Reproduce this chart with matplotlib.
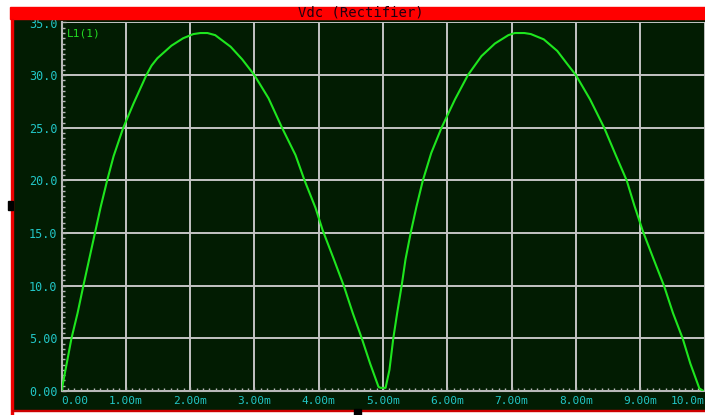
"""Vdc (Rectifier) - осциллограмма выпрямленного напряжения в стиле Proteus"""

import matplotlib
matplotlib.use('Agg')
import matplotlib.pyplot as plt
from matplotlib.patches import Rectangle
from matplotlib.ticker import MultipleLocator

W, H = 705, 415

# время, мс и напряжение, В
time_ms = [0.0, 0.155, 0.25, 0.34, 0.43, 0.52, 0.61, 0.71, 0.81, 0.96,
           1.12, 1.32, 1.40, 1.49, 1.71, 1.89, 2.05, 2.16, 2.27, 2.39, 2.63,
           2.81, 3.0, 3.22, 3.43, 3.64, 3.78, 3.95, 4.06, 4.23, 4.39,
           4.53, 4.67, 4.8, 4.93, 4.96, 5.04, 5.1, 5.16, 5.22, 5.29,
           5.35, 5.43, 5.52, 5.62, 5.75, 5.91, 6.12, 6.32, 6.53, 6.74,
           6.95, 7.05, 7.2, 7.3, 7.5, 7.71, 7.86, 8.0, 8.22, 8.44,
           8.62, 8.79, 8.91, 9.04, 9.21, 9.37, 9.51, 9.66, 9.78, 9.92, 9.97]
vdc = [0.0, 5.0, 7.4, 10.0, 12.5, 15.0, 17.5, 20.0, 22.3, 25.0,
       27.3, 30.0, 30.9, 31.6, 32.8, 33.5, 33.9, 34.0, 34.0, 33.8, 32.7,
       31.5, 30.0, 27.8, 25.0, 22.4, 20.0, 17.4, 15.3, 12.6, 10.0,
       7.4, 5.0, 2.6, 0.4, 0.3, 0.3, 2.0, 5.0, 7.4, 10.0,
       12.5, 15.0, 17.5, 20.0, 22.6, 25.0, 27.7, 30.0, 31.8, 33.0,
       33.8, 34.0, 34.0, 33.9, 33.4, 32.3, 31.1, 30.0, 27.7, 25.0,
       22.4, 20.0, 17.6, 15.2, 12.5, 10.0, 7.4, 5.0, 2.6, 0.25, 0.05]

x_ticks = [0, 1, 2, 3, 4, 5, 6, 7, 8, 9, 10]
x_labels = ['0.00', '1.00m', '2.00m', '3.00m', '4.00m', '5.00m',
            '6.00m', '7.00m', '8.00m', '9.00m', '10.0m']
y_ticks = [0, 5, 10, 15, 20, 25, 30, 35]
y_labels = ['0.00', '5.00', '10.0', '15.0', '20.0', '25.0', '30.0', '35.0']

PANEL = '#021c02'
GRID = '#c4c4c4'
CYAN = '#22c6c6'
TRACE = '#1ee61e'
MONO = 'DejaVu Sans Mono'


def px_rect(x0, y0, x1, y1):
    """Прямоугольник в пикселях -> координаты фигуры"""
    return [x0 / W, 1 - y1 / H, (x1 - x0) / W, (y1 - y0) / H]


def fig_box(x0, y0, x1, y1, color, zorder):
    """Прямоугольник-украшение на фигуре (пиксели)"""
    fig.patches.append(
        Rectangle((x0 / W, 1 - y1 / H), (x1 - x0) / W, (y1 - y0) / H,
                  transform=fig.transFigure, color=color, zorder=zorder)
    )


fig = plt.figure(figsize=(W / 100, H / 100), dpi=100, facecolor='white')

# тёмно-зелёная панель и красная рамка
fig_box(12, 19, W, 409, PANEL, -2)
fig_box(10, 7, W, 19.5, '#ff0000', 1)
fig_box(11, 19, 12.5, H, '#ee0000', 1)
fig_box(12, 409.5, W, 411, '#cc0000', 1)
fig_box(8, 201, 13, 210, 'black', 2)
fig_box(354, 409, 361, H, 'black', 2)

fig.text(361 / W, 1 - 12.5 / H, 'Vdc (Rectifier)', ha='center', va='center',
         family=MONO, fontsize=10, color='#200010', zorder=3)

ax = fig.add_axes(px_rect(61.5, 22.5, 704.5, 391))
ax.set_facecolor(PANEL)
ax.plot(time_ms, vdc, color=TRACE, linewidth=1.5, zorder=3,
        solid_joinstyle='round')

ax.set_xlim(0, 10)
ax.set_ylim(0, 35)
ax.set_xticks(x_ticks)
ax.set_yticks(y_ticks)
ax.xaxis.set_minor_locator(MultipleLocator(0.1))
ax.yaxis.set_minor_locator(MultipleLocator(0.5))
ax.grid(True, which='major', color=GRID, linewidth=1.4)
ax.set_axisbelow(True)

for side in ('top', 'right'):
    ax.spines[side].set_visible(False)
for side in ('left', 'bottom'):
    ax.spines[side].set_color('#b8b8b8')
    ax.spines[side].set_linewidth(1.5)

ax.tick_params(which='both', direction='in', color='#b8b8b8', width=1)
ax.tick_params(which='major', length=3)
ax.tick_params(which='minor', length=2.5)
ax.tick_params(axis='y', pad=3)
ax.tick_params(axis='x', pad=3.5)

xl = ax.set_xticklabels(x_labels, family=MONO, fontsize=8, color=CYAN)
yl = ax.set_yticklabels(y_labels, family=MONO, fontsize=8.5, color=CYAN)
xl[0].set_ha('left')
xl[-1].set_ha('right')

ax.text(0.08, 34.4, 'L1(1)', family=MONO, fontsize=8, color='#22dd22',
        va='top', ha='left', zorder=4)

fig.savefig('out.png', dpi=100, facecolor='white')
